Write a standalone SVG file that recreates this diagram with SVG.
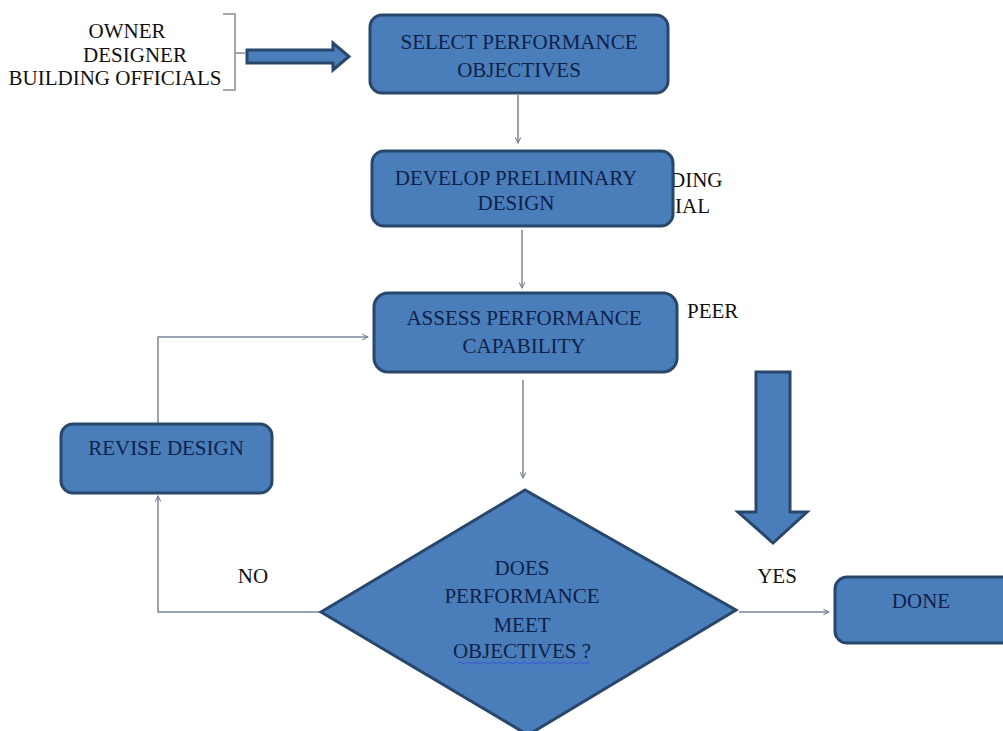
<svg xmlns="http://www.w3.org/2000/svg" width="1003" height="731" viewBox="0 0 1003 731">
<defs>
<marker id="arr" viewBox="0 0 10 10" refX="9" refY="5" markerWidth="7" markerHeight="7" orient="auto" markerUnits="userSpaceOnUse">
<path d="M1,1 L9,5 L1,9" fill="none" stroke="#7a8596" stroke-width="1.5"/>
</marker>
<style>
.box{fill:#4a7ebb;stroke:#28476b;stroke-width:3}
.t{font-family:'Liberation Serif','DejaVu Serif','Times New Roman',Times,serif;font-size:21px;fill:#0f2149;text-anchor:middle}
.p{font-family:'Liberation Serif','DejaVu Serif','Times New Roman',Times,serif;font-size:21px;fill:#111}
.c{fill:none;stroke:#7a8596;stroke-width:1.5}
</style>
</defs>
<rect width="1003" height="731" fill="#ffffff"/>

<g id="stakeholders">
<text class="p" text-anchor="middle" x="127" y="38">OWNER</text>
<text class="p" text-anchor="middle" x="135" y="62">DESIGNER</text>
<text class="p" text-anchor="middle" x="115" y="85">BUILDING OFFICIALS</text>
<path d="M223,14 H235 V90 H223 M235,53 H245" fill="none" stroke="#8a8a8a" stroke-width="1.5"/>
<polygon class="box" points="247,50 333,50 333,43 349,56.5 333,70 333,63 247,63" stroke-width="2.5"/>
</g>

<g id="side-labels">
<text class="p" x="670" y="187">DING</text>
<text class="p" x="675" y="213">IAL</text>
<text class="p" x="687" y="318">PEER</text>
<text class="p" text-anchor="middle" x="253" y="583">NO</text>
<text class="p" text-anchor="middle" x="777" y="583">YES</text>
</g>

<g id="connectors">
<line class="c" x1="518" y1="95" x2="518" y2="143" marker-end="url(#arr)"/>
<line class="c" x1="522" y1="230" x2="522" y2="288" marker-end="url(#arr)"/>
<line class="c" x1="523" y1="380" x2="523" y2="478" marker-end="url(#arr)"/>
<polyline class="c" points="322,612 158,612 158,496" marker-end="url(#arr)"/>
<polyline class="c" points="158,423 158,337 368,337" marker-end="url(#arr)"/>
<line class="c" x1="739" y1="612" x2="829" y2="612" marker-end="url(#arr)"/>
</g>

<g id="select">
<rect class="box" x="370" y="15" width="298" height="78" rx="12"/>
<text class="t" x="519" y="49">SELECT PERFORMANCE</text>
<text class="t" x="519" y="77">OBJECTIVES</text>
</g>

<g id="develop">
<rect class="box" x="372" y="151" width="301" height="75" rx="12"/>
<text class="t" x="516" y="185">DEVELOP PRELIMINARY</text>
<text class="t" x="516" y="210">DESIGN</text>
</g>

<g id="assess">
<rect class="box" x="374" y="293" width="303" height="79" rx="14"/>
<text class="t" x="524" y="325">ASSESS PERFORMANCE</text>
<text class="t" x="524" y="353">CAPABILITY</text>
</g>

<g id="revise">
<rect class="box" x="61" y="424" width="211" height="69" rx="12"/>
<text class="t" x="166" y="455">REVISE DESIGN</text>
</g>

<g id="decision">
<polygon class="box" points="321,612 525,490 736,610 528,735"/>
<text class="t" x="522" y="575">DOES</text>
<text class="t" x="522" y="603">PERFORMANCE</text>
<text class="t" x="522" y="632">MEET</text>
<text class="t" x="522" y="658">OBJECTIVES ?</text>
<path d="M458,663 q2,-2 4,0 t4,0 t4,0 t4,0 t4,0 t4,0 t4,0 t4,0 t4,0 t4,0 t4,0 t4,0 t4,0 t4,0 t4,0 t4,0 t4,0 t4,0 t4,0 t4,0 t4,0 t4,0 t4,0 t4,0 t4,0 t4,0 t4,0 t4,0 t4,0 t4,0 t4,0 t4,0 t4,0" fill="none" stroke="#3355dd" stroke-width="1"/>
</g>

<g id="big-arrow">
<polygon class="box" points="756,372 790,372 790,512 807,512 773,543 738,512 756,512" stroke-width="2.5"/>
</g>

<g id="done">
<rect class="box" x="835" y="577" width="185" height="66" rx="12"/>
<text class="t" x="921" y="608">DONE</text>
</g>
</svg>
